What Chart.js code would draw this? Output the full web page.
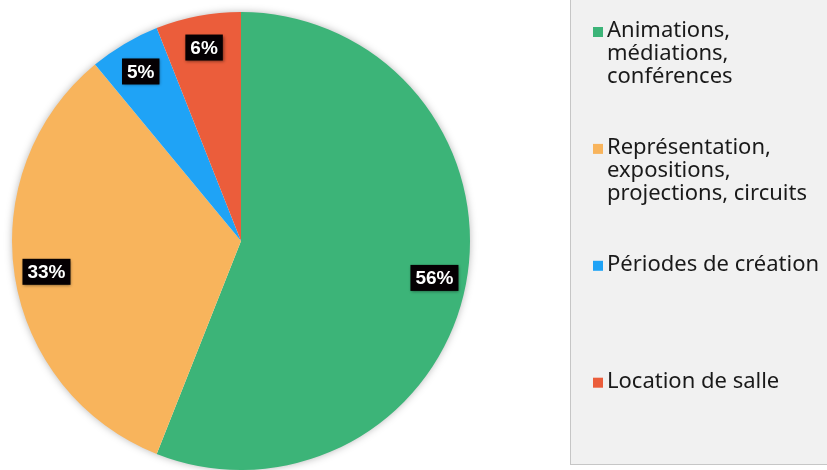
<!DOCTYPE html>
<html>
<head>
<meta charset="utf-8">
<script src="https://cdn.jsdelivr.net/npm/chart.js@4.4.1/dist/chart.umd.min.js"></script>
<style>
  html, body { margin: 0; padding: 0; background: #fff; }
  #wrap { width: 827px; height: 470px; position: relative; }
</style>
</head>
<body>
<div id="wrap"><canvas id="chart-pie" width="827" height="470"></canvas></div>
<script>
// data
const categories = [
    ['Animations,', 'médiations,', 'conférences'],
    ['Représentation,', 'expositions,', 'projections, circuits'],
    ['Périodes de création'],
    ['Location de salle']
];
const shares = [56, 33, 5, 6];
const sliceColors = ['#3cb478', '#f8b45c', '#1fa3f6', '#eb5d3b'];

// shadow behind the pie
const pieShadow = {
    id: 'pieShadow',
    beforeDatasetsDraw(chart) {
        const arc = chart.getDatasetMeta(0).data[0];
        if (!arc) return;
        const ctx = chart.ctx;
        ctx.save();
        ctx.shadowColor = 'rgba(0,0,0,0.35)';
        ctx.shadowBlur = 9;
        ctx.fillStyle = '#fff';
        ctx.beginPath();
        ctx.arc(arc.x, arc.y, arc.outerRadius - 1, 0, Math.PI * 2);
        ctx.fill();
        ctx.restore();
    }
};

// percentage tags in black boxes
const pctLabels = {
    id: 'pctLabels',
    afterDatasetsDraw(chart) {
        const ctx = chart.ctx;
        const meta = chart.getDatasetMeta(0);
        ctx.save();
        ctx.font = 'bold 19px "Liberation Sans", Arial, sans-serif';
        ctx.textAlign = 'center';
        ctx.textBaseline = 'middle';
        meta.data.forEach((arc, i) => {
            const mid = (arc.startAngle + arc.endAngle) / 2;
            const r = arc.outerRadius * 0.86;
            const x = arc.x + Math.cos(mid) * r;
            const y = arc.y + Math.sin(mid) * r;
            const txt = shares[i] + '%';
            const w = ctx.measureText(txt).width + 10;
            const h = 26;
            ctx.shadowColor = 'rgba(0,0,0,0.45)';
            ctx.shadowBlur = 3;
            ctx.shadowOffsetX = 1;
            ctx.shadowOffsetY = 1;
            ctx.fillStyle = '#050003';
            ctx.fillRect(x - w / 2, y - h / 2, w, h);
            ctx.shadowColor = 'transparent';
            ctx.fillStyle = '#fff';
            ctx.fillText(txt, x, y + 1);
        });
        ctx.restore();
    }
};

// boxed legend on the right
const boxLegend = {
    id: 'boxLegend',
    afterDraw(chart) {
        const ctx = chart.ctx;
        ctx.save();
        ctx.fillStyle = '#f1f1f1';
        ctx.strokeStyle = '#c6c6c6';
        ctx.lineWidth = 1;
        ctx.fillRect(570, -2, 260, 466);
        ctx.strokeRect(570.5, -2, 260, 466.5);
        ctx.font = '22px "Noto Sans", sans-serif';
        ctx.textBaseline = 'alphabetic';
        ctx.textAlign = 'left';
        categories.forEach((lines, i) => {
            const base = 37 + i * 116.9;
            ctx.fillStyle = sliceColors[i];
            ctx.fillRect(593, base - 10, 10, 10);
            ctx.fillStyle = '#1a1a1a';
            lines.forEach((ln, j) => ctx.fillText(ln, 607, base + j * 23));
        });
        ctx.restore();
    }
};

new Chart(document.getElementById('chart-pie'), {
    type: 'pie',
    data: {
        labels: categories.map(l => l.join(' ')),
        datasets: [{
            data: shares,
            backgroundColor: sliceColors,
            borderWidth: 0
        }]
    },
    options: {
        responsive: false,
        animation: false,
        layout: { padding: { left: 12, top: 12, right: 357, bottom: 0 } },
        plugins: {
            legend: { display: false },
            tooltip: { enabled: false }
        }
    },
    plugins: [pieShadow, pctLabels, boxLegend]
});
</script>
</body>
</html>
